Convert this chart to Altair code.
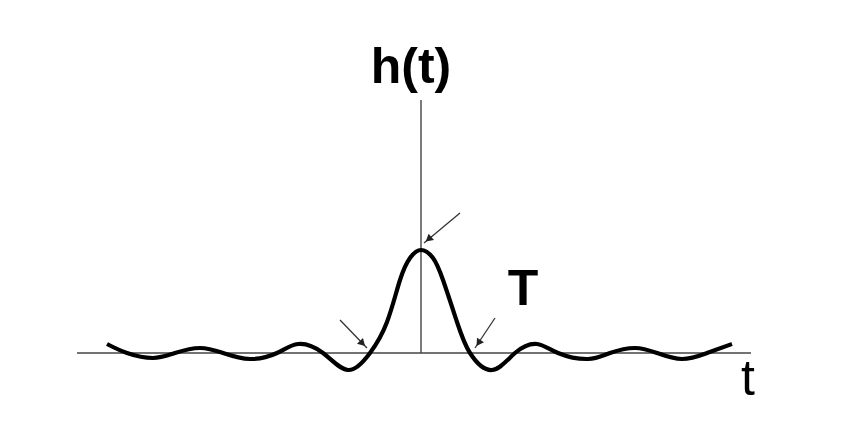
import altair as alt
import pandas as pd

# Curve h(t) (t and h in drawing units, axis crossing at 0)
t_vals = [-314, -294, -268, -246, -221, -198, -171, -144, -123, -98, -73, -51,
          -34, -21, -11, 0, 12, 22, 36, 49, 71, 94, 116, 137, 167, 189, 214,
          236, 261, 286, 311]
h_vals = [9, 0, -5, 0, 5, 0, -6, 0, 9, 0, -17, 0,
          31, 73, 95, 103, 95, 73, 31, 0, -17, 0, 9, 0, -6, 0, 5,
          0, -6, 0, 9]

# Axes extents
axis_t = [-344, 330]
axis_h_top = 253

# Annotation arrows: start -> tip
arrow_t0 = [39, -81, 74]
arrow_h0 = [140, 33, 35]
arrow_t1 = [3, -54, 54]
arrow_h1 = [110, 5, 5]
head_t = [7.5, -58.5, 57.5]
head_h = [113.8, 9.5, 10]
head_angle = [230, 136, 214]

# Labels
label_text = ["h(t)", "T", "t"]
label_t = [-10, 102, 327]
label_h = [270, 48, -42]
label_weight = ["bold", "bold", "normal"]

X = alt.Scale(domain=[-413, 436], nice=False, zero=False)
Y = alt.Scale(domain=[-79, 345], nice=False, zero=False)

curve_df = pd.DataFrame({"t": t_vals, "h": h_vals})
haxis_df = pd.DataFrame({"t": [axis_t[0]], "t2": [axis_t[1]], "h": [0]})
vaxis_df = pd.DataFrame({"t": [0], "h": [0], "h2": [axis_h_top]})
arrow_df = pd.DataFrame({"t": arrow_t0, "h": arrow_h0, "t2": arrow_t1, "h2": arrow_h1})
head_df = pd.DataFrame({"t": head_t, "h": head_h, "ang": head_angle})
label_df = pd.DataFrame({"text": label_text, "t": label_t, "h": label_h, "w": label_weight})

haxis = alt.Chart(haxis_df).mark_rule(color="#444", strokeWidth=1.6).encode(
    x=alt.X("t:Q", scale=X, axis=None), x2="t2:Q",
    y=alt.Y("h:Q", scale=Y, axis=None))
vaxis = alt.Chart(vaxis_df).mark_rule(color="#444", strokeWidth=1.4).encode(
    x=alt.X("t:Q", scale=X, axis=None),
    y=alt.Y("h:Q", scale=Y, axis=None), y2="h2:Q")
curve = alt.Chart(curve_df).mark_line(color="black", strokeWidth=4.2,
                                      interpolate="natural").encode(
    x=alt.X("t:Q", scale=X, axis=None),
    y=alt.Y("h:Q", scale=Y, axis=None))
arrows = alt.Chart(arrow_df).mark_rule(color="#333", strokeWidth=1.3).encode(
    x=alt.X("t:Q", scale=X, axis=None), x2="t2:Q",
    y=alt.Y("h:Q", scale=Y, axis=None), y2="h2:Q")
heads = alt.Chart(head_df).mark_point(shape="triangle-up", filled=True,
                                      color="#222", size=70, opacity=1).encode(
    x=alt.X("t:Q", scale=X, axis=None),
    y=alt.Y("h:Q", scale=Y, axis=None),
    angle=alt.Angle("ang:Q", scale=None))
labels_bold = alt.Chart(label_df[label_df.w == "bold"]).mark_text(
    font="Liberation Sans", fontSize=50, fontWeight="bold", color="black",
    align="center", baseline="alphabetic").encode(
    x=alt.X("t:Q", scale=X, axis=None),
    y=alt.Y("h:Q", scale=Y, axis=None),
    text="text:N")
labels_norm = alt.Chart(label_df[label_df.w == "normal"]).mark_text(
    font="Liberation Sans", fontSize=50, fontWeight="normal", color="black",
    align="center", baseline="alphabetic").encode(
    x=alt.X("t:Q", scale=X, axis=None),
    y=alt.Y("h:Q", scale=Y, axis=None),
    text="text:N")

chart = alt.layer(haxis, vaxis, curve, arrows, heads, labels_bold, labels_norm).properties(
    width=849, height=424, padding=0, autosize=alt.AutoSizeParams(type="none"),
    background="white"
).configure_view(stroke=None)

chart.save("out.html", embed_options={"renderer": "svg", "actions": False})
